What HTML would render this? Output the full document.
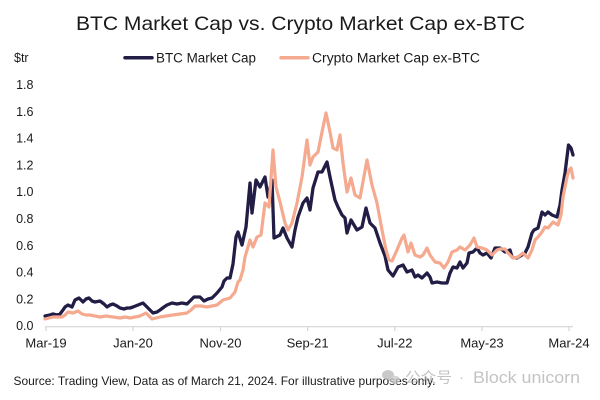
<!DOCTYPE html>
<html>
<head>
<meta charset="utf-8">
<style>
  html,body{margin:0;padding:0;background:#fff;}
  svg{display:block;}
  text{font-family:"Liberation Sans","Noto Sans CJK SC",sans-serif;}
</style>
</head>
<body>
<svg width="600" height="400" viewBox="0 0 600 400" xmlns="http://www.w3.org/2000/svg">
  <rect width="600" height="400" fill="#ffffff"/>
  <!-- Title -->
  <text x="76" y="30" font-size="19.5" fill="#1a1a1a" textLength="449" lengthAdjust="spacingAndGlyphs">BTC Market Cap vs. Crypto Market Cap ex-BTC</text>

  <!-- Legend -->
  <text x="14" y="62" font-size="12.5" fill="#1a1a1a">$tr</text>
  <line x1="125" y1="57.7" x2="152" y2="57.7" stroke="#221d45" stroke-width="3.5" stroke-linecap="round"/>
  <text x="156" y="62.5" font-size="13.5" fill="#1a1a1a" textLength="100" lengthAdjust="spacingAndGlyphs">BTC Market Cap</text>
  <line x1="281" y1="57.7" x2="308" y2="57.7" stroke="#f5a98f" stroke-width="3.5" stroke-linecap="round"/>
  <text x="312" y="62.5" font-size="13.5" fill="#1a1a1a" textLength="168" lengthAdjust="spacingAndGlyphs">Crypto Market Cap ex-BTC</text>

  <!-- Y axis labels -->
  <g font-size="12.5" fill="#1a1a1a" text-anchor="end">
    <text x="33.5" y="89">1.8</text>
    <text x="33.5" y="115.8">1.6</text>
    <text x="33.5" y="142.6">1.4</text>
    <text x="33.5" y="169.4">1.2</text>
    <text x="33.5" y="196.2">1.0</text>
    <text x="33.5" y="223">0.8</text>
    <text x="33.5" y="249.8">0.6</text>
    <text x="33.5" y="276.6">0.4</text>
    <text x="33.5" y="303.4">0.2</text>
    <text x="33.5" y="330.2">0.0</text>
  </g>

  <!-- X axis -->
  <line x1="45" y1="326.7" x2="573" y2="326.7" stroke="#d4d4d4" stroke-width="1.2"/>
  <g stroke="#d4d4d4" stroke-width="1.2">
    <line x1="46" y1="326.7" x2="46" y2="331"/>
    <line x1="133" y1="326.7" x2="133" y2="331"/>
    <line x1="220.5" y1="326.7" x2="220.5" y2="331"/>
    <line x1="307.6" y1="326.7" x2="307.6" y2="331"/>
    <line x1="394.8" y1="326.7" x2="394.8" y2="331"/>
    <line x1="482" y1="326.7" x2="482" y2="331"/>
    <line x1="569" y1="326.7" x2="569" y2="331"/>
  </g>
  <g font-size="13" fill="#1a1a1a" text-anchor="middle">
    <text x="46" y="347.5">Mar-19</text>
    <text x="133" y="347.5">Jan-20</text>
    <text x="220.5" y="347.5">Nov-20</text>
    <text x="307.6" y="347.5">Sep-21</text>
    <text x="394.8" y="347.5">Jul-22</text>
    <text x="482" y="347.5">May-23</text>
    <text x="569" y="347.5">Mar-24</text>
  </g>

  <!-- BTC series -->
  <polyline fill="none" stroke="#221d45" stroke-width="3.3" stroke-linejoin="round" stroke-linecap="round"
    points="45,316 50,315 53,314 57,315 60,314 63,310 65,307 68,305 72,307 75,300 79,298 83,302 86,299 89,298 92,301 95,302 100,301 104,304 107,307 110,305 113,304 117,306 120,308 124,309 127,308 130,308 133,307 138,305 143,303 147,307 150,310 153,313 157,312 160,310 164,307 167,305 172,303 177,304 182,303 187,304 191,300 194,297 200,297 204,301 208,299 212,298 217,293 222,287 224,281 227,278 230,278 233,264 236,237 238,232 242,245 246,227 250,183 252,213 256,180 260,187 265,177 268,197 272,180 274,238 280,235 283,228 287,238 292,247 295,230 298,217 303,203 307,198 310,210 313,188 318,172 322,172 327,162 330,177 335,200 338,207 342,215 345,218 347,233 351,220 357,230 362,227 366,208 370,223 375,228 380,243 385,256 388,270 393,276 398,267 403,265 407,272 412,270 415,277 418,275 422,278 427,273 430,277 432,283 437,282 442,283 447,283 450,273 453,267 457,268 460,262 463,268 467,263 469,253 473,252 477,248 480,253 483,255 487,253 491,258 495,248 500,248 505,252 510,250 512,257 517,258 522,255 525,253 528,247 532,233 534,230 538,228 542,212 545,215 548,212 552,215 557,217 560,205 562,190 565,173 567,157 568.5,145 571,148 573,155"/>

  <!-- Crypto ex-BTC series -->
  <polyline fill="none" stroke="#f5a98f" stroke-width="3.2" stroke-linejoin="round" stroke-linecap="round"
    points="45,319 49,318 53,317 58,317 62,317 65,315 68,312 73,313 78,311 82,314 86,315 90,315 95,316 100,317 106,316 113,317 120,318 125,317 130,318 135,317 140,316 146,313 149,316 152,319 156,318 160,317 166,316 173,315 180,314 187,313 191,310 195,306 201,306 207,307 212,306 217,305 223,300 230,298 235,292 238,282 240,280 243,270 245,257 250,240 253,247 257,237 261,235 265,203 269,207 273,150 276,187 280,202 285,223 288,230 292,223 297,203 302,177 307,140 310,165 313,157 318,152 322,132 326,113 330,132 333,148 337,150 340,135 343,163 347,192 351,178 355,195 360,198 367,160 372,185 377,203 382,230 386,250 389,260 392,261 397,250 402,238 404,235 408,252 411,243 415,255 420,257 423,255 427,248 430,255 435,262 440,263 444,268 448,262 452,252 457,250 460,247 465,250 470,245 474,238 477,247 482,248 487,250 492,255 497,250 500,249 505,249 508,253 513,258 518,257 523,253 528,258 532,250 535,240 538,237 542,232 545,227 548,228 553,222 558,225 561,215 563,197 567,177 569,170 571,168 573,178"/>

  <!-- Source -->
  <text x="13.5" y="385" font-size="12" fill="#1a1a1a" textLength="422" lengthAdjust="spacingAndGlyphs">Source: Trading View, Data as of March 21, 2024. For illustrative purposes only.</text>

  <!-- Watermark -->
  <g opacity="0.75">
    <ellipse cx="388" cy="375" rx="6" ry="5" fill="#b8b8b8"/>
    <ellipse cx="395" cy="380" rx="5" ry="4.2" fill="#c8c8c8"/>
    <text x="405" y="382.5" font-size="15" fill="#b0b0b0" textLength="47" lengthAdjust="spacingAndGlyphs">公众号</text>
    <text x="459" y="382" font-size="15" fill="#b0b0b0">·</text>
    <text x="473" y="383" font-size="17" fill="#b0b0b0" textLength="107" lengthAdjust="spacingAndGlyphs">Block unicorn</text>
  </g>
</svg>
</body>
</html>
